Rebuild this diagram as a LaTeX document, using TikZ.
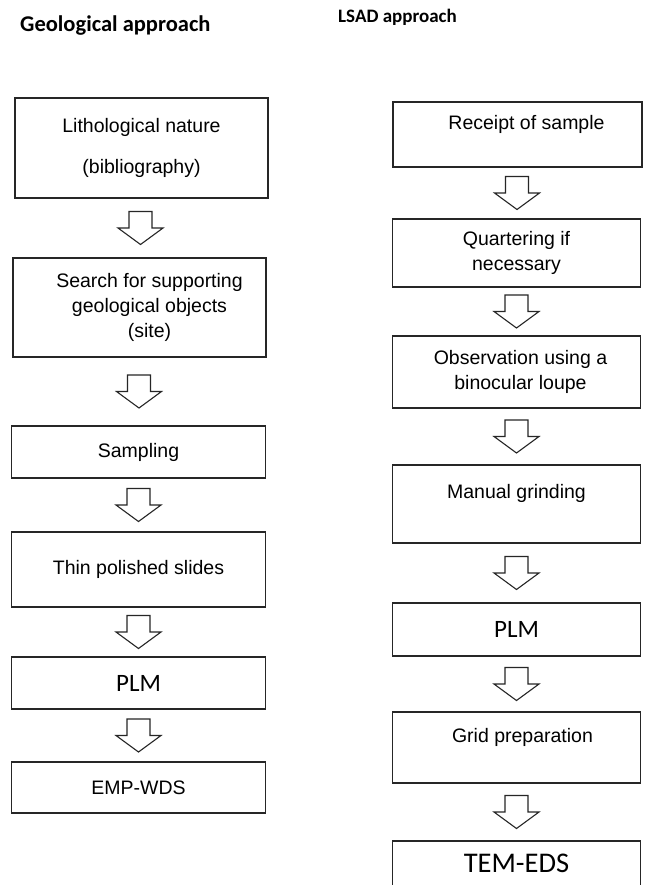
\documentclass[tikz,border=0pt]{standalone}
\usepackage{fontspec}
\setmainfont{Liberation Sans}
\newfontfamily\calibri{Carlito}
\usetikzlibrary{calc}

\newcommand{\boxfont}{\fontsize{19.5}{25}\selectfont}
\newcommand{\bigfont}{\calibri\fontsize{25}{30}\selectfont}

\tikzset{
    stepbox/.style={draw=black!85, line width=1.1pt, rectangle, align=center, inner sep=0pt, font=\boxfont},
    arrowline/.style={draw=black!85, line width=1.1pt, fill=white, line join=miter},
    headline/.style={anchor=base west, inner sep=0pt, font=\calibri\bfseries}
}

% hollow block arrow half way between two boxes
\newcommand{\blockarrow}[2]{%
    \draw[arrowline] ($(#1.south)!0.5!(#2.north)$) +(-11.5,-16.5) -- +(11.5,-16.5) -- +(11.5,0) -- +(22.5,0) -- +(0,16.5) -- +(-22.5,0) -- +(-11.5,0) -- cycle;}

\begin{document}
\begin{tikzpicture}[x=1pt,y=-1pt]
    \clip (0,0) rectangle (647,885);
    \fill[white] (0,0) rectangle (647,885);

    \node[headline, font=\calibri\bfseries\fontsize{22.5}{26}\selectfont] (geo) at (20,32) {Geological approach};
    \node[headline, font=\calibri\bfseries\fontsize{19}{22}\selectfont] (lsad) at (338,23) {LSAD approach};

    % geological approach
    \node[stepbox, minimum width=253, minimum height=100] (g1) at (141.5,148) {Lithological nature\\[16pt](bibliography)};
    \node[stepbox, minimum width=253, minimum height=99] (g2) at (139.5,307.5) {\hspace*{20pt}Search for supporting\\\hspace*{20pt}geological objects\\\hspace*{20pt}(site)};
    \node[stepbox, minimum width=254, minimum height=52] (g3) at (138.5,452) {Sampling};
    \node[stepbox, minimum width=254, minimum height=75] (g4) at (138.5,569.5) {Thin polished slides};
    \node[stepbox, minimum width=254, minimum height=52, font=\bigfont] (g5) at (138.5,683) {PLM};
    \node[stepbox, minimum width=254, minimum height=51] (g6) at (138.5,787.5) {EMP-WDS};

    \blockarrow{g1}{g2}
    \blockarrow{g2}{g3}
    \blockarrow{g3}{g4}
    \blockarrow{g4}{g5}
    \blockarrow{g5}{g6}

    % LSAD approach
    \node[stepbox, minimum width=249, minimum height=65] (r1) at (517.5,134.5) {\hspace*{18pt}Receipt of sample\\\mbox{}};
    \node[stepbox, minimum width=248, minimum height=68] (r2) at (516.5,253) {Quartering if\\necessary};
    \node[stepbox, minimum width=248, minimum height=72] (r3) at (516.5,372) {\hspace*{8pt}Observation using a\\\hspace*{8pt}binocular loupe};
    \node[stepbox, minimum width=248, minimum height=78] (r4) at (516.5,504) {Manual grinding\\\mbox{}};
    \node[stepbox, minimum width=248, minimum height=53, font=\bigfont] (r5) at (516.5,629.5) {PLM};
    \node[stepbox, minimum width=248, minimum height=71] (r6) at (516.5,747.5) {\hspace*{12pt}Grid preparation\\\mbox{}};
    \node[stepbox, minimum width=248, minimum height=60, font=\calibri\fontsize{28.5}{32}\selectfont] (r7) at (516.5,871) {TEM-EDS\\[-16pt]\mbox{}};

    \blockarrow{r1}{r2}
    \blockarrow{r2}{r3}
    \blockarrow{r3}{r4}
    \blockarrow{r4}{r5}
    \blockarrow{r5}{r6}
    \blockarrow{r6}{r7}
\end{tikzpicture}
\end{document}
